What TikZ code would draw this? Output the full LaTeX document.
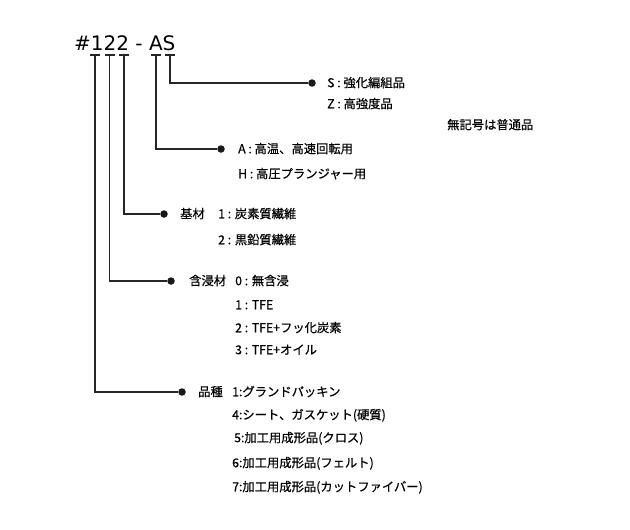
\documentclass[tikz,border=0pt]{standalone}
\usepackage{fontspec}
\newfontfamily\jpfont[FakeBold=0.5]{Noto Sans CJK JP}
\newfontfamily\codefont{DejaVu Sans}
\usetikzlibrary{arrows.meta, positioning, calc}
\tikzset{
  codetxt/.style={font=\codefont\fontsize{20}{24}\selectfont, inner sep=0pt, anchor=base west},
  itemtxt/.style={font=\jpfont\fontsize{12.3}{14}\selectfont, inner sep=0pt, anchor=west, text height=10pt, text depth=1.5pt},
  leadline/.style={line width=1.1pt, black!85},
  dotnode/.style={circle, fill=black!90, inner sep=0pt, minimum size=7.5pt},
}

\begin{document}
\begin{tikzpicture}[x=1pt, y=-1pt]
  \useasboundingbox (0,0) rectangle (630,530);
  \node[codetxt] (code) at (74,50) {\#122 - AS};
  \foreach \n/\x in {c1/95, c2/109.5, c3/124, cA/156, cS/170}{
    \coordinate (\n) at (\x,55);
    \draw[leadline] ($(\n)+(-5,0)$) -- ($(\n)+(5,0)$);
  }

  \node[dotnode] (dS) at (312,83) {};
  \node[dotnode] (dA) at (221,149) {};
  \node[dotnode] (dB) at (164,214) {};
  \node[dotnode] (dI) at (171,281) {};
  \node[dotnode] (dK) at (182,392) {};
  \draw[leadline] (cS) |- (dS);
  \draw[leadline] (cA) |- (dA);
  \draw[leadline] (c3) |- (dB);
  \draw[leadline] (c2) |- (dI);
  \draw[leadline] (c1) |- (dK);

  \node[itemtxt] (s1) at (327,83) {S : 強化編組品};
  \node[itemtxt] (s2) at (327,104) {Z : 高強度品};
  \node[itemtxt] (s0) at (447,125) {無記号は普通品};

  \node[itemtxt] (a1) at (238,149) {A : 高温、高速回転用};
  \node[itemtxt] (a2) at (238,174) {H : 高圧プランジャー用};

  \node[itemtxt] (b0) at (180,214) {基材};
  \node[itemtxt] (b1) at (218,214) {1 : 炭素質繊維};
  \node[itemtxt] (b2) at (218,240) {2 : 黒鉛質繊維};

  \node[itemtxt] (i0) at (189,281) {含浸材};
  \node[itemtxt] (i1) at (235,281) {0 : 無含浸};
  \node[itemtxt] (i2) at (235,305) {1 : TFE};
  \node[itemtxt] (i3) at (235,328) {2 : TFE+フッ化炭素};
  \node[itemtxt] (i4) at (235,350) {3 : TFE+オイル};

  \node[itemtxt] (k0) at (198,392) {品種};
  \node[itemtxt] (k1) at (232,392) {1:グランドパッキン};
  \node[itemtxt] (k2) at (232,415) {4:シート、ガスケット(硬質)};
  \node[itemtxt] (k3) at (234,438) {5:加工用成形品(クロス)};
  \node[itemtxt] (k4) at (232,463) {6:加工用成形品(フェルト)};
  \node[itemtxt] (k5) at (232,487) {7:加工用成形品(カットファイバー)};
\end{tikzpicture}
\end{document}
